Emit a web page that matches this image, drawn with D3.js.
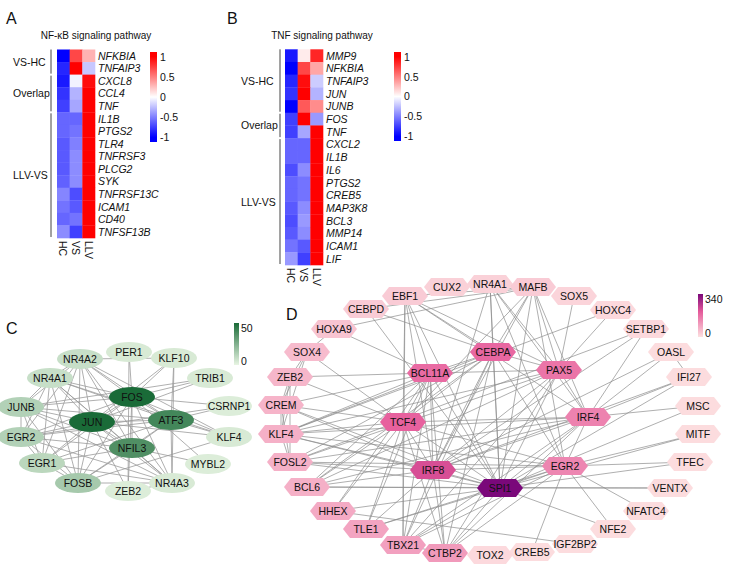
<!DOCTYPE html>
<html><head><meta charset="utf-8">
<script src="https://cdn.jsdelivr.net/npm/d3@7"></script>
<style>
body{margin:0;background:#fff}
svg{display:block}
text{font-family:Arial,"Liberation Sans",Helvetica,sans-serif;fill:#111}
</style>
</head><body>
<svg id="fig" width="738" height="577"></svg>
<script>
// ---------------- DATA ----------------
const heatCols = ["HC", "VS", "LLV"];
const colorTicks = [1, 0.5, 0, -0.5, -1];

const aTitle = "NF-κB signaling pathway";
const aGenes = ["NFKBIA","TNFAIP3","CXCL8","CCL4","TNF","IL1B","PTGS2","TLR4","TNFRSF3","PLCG2","SYK","TNFRSF13C","ICAM1","CD40","TNFSF13B"];
const aHC  = [-1.0,-0.85,-0.9,-0.8,-0.75,-0.6,-0.6,-0.65,-0.65,-0.65,-0.62,-0.48,-0.55,-0.6,-0.45];
const aVS  = [0.72,1.0,-0.05,-0.3,-0.35,-0.6,-0.55,-0.5,-0.45,-0.45,-0.45,-0.7,-0.65,-0.55,-0.75];
const aLLV = [0.3,-0.22,0.95,1.0,1.0,1.0,1.0,1.0,1.0,1.0,1.0,1.0,1.0,1.0,1.0];
const aGroupNames = ["VS-HC","Overlap","LLV-VS"];
const aGroupSizes = [2,3,10];

const bTitle = "TNF signaling pathway";
const bGenes = ["MMP9","NFKBIA","TNFAIP3","JUN","JUNB","FOS","TNF","CXCL2","IL1B","IL6","PTGS2","CREB5","MAP3K8","BCL3","MMP14","ICAM1","LIF"];
const bHC  = [-0.9,-1.0,-0.85,-0.8,-1.0,-0.75,-0.75,-0.6,-0.6,-0.7,-0.6,-0.6,-0.65,-0.7,-0.65,-0.55,-0.4];
const bVS  = [0.08,0.72,0.95,1.0,0.65,1.0,-0.35,-0.6,-0.6,-0.45,-0.55,-0.55,-0.45,-0.4,-0.45,-0.65,-0.75];
const bLLV = [0.85,0.35,-0.2,-0.3,0.45,-0.4,1.0,1.0,1.0,1.0,1.0,1.0,1.0,1.0,1.0,1.0,1.0];
const bGroupNames = ["VS-HC","Overlap","LLV-VS"];
const bGroupSizes = [5,2,10];

// Network C (layout coordinates in layout units, degree values)
const cNodes  = ["PER1","NR4A2","KLF10","NR4A1","TRIB1","FOS","JUNB","CSRNP1","JUN","ATF3","EGR2","KLF4","NFIL3","EGR1","MYBL2","FOSB","ZEB2","NR4A3"];
const cLayoutX = [129,80,174,50,210,132,21,229,92,171,21,229,132,42,208,78,128,172];
const cLayoutY = [352,359,358,378,378,397,407,406,422,420,437,437,448,463,464,483,491,483];
const cDegree = [4,8,4,8,4,50,13,3,50,40,13,4,37,11,3,16,3,4];
const cEdges = [
 ["FOS","JUN"],["FOS","ATF3"],["FOS","NFIL3"],["FOS","NR4A1"],["FOS","NR4A2"],["FOS","KLF10"],["FOS","TRIB1"],["FOS","CSRNP1"],["FOS","KLF4"],["FOS","JUNB"],["FOS","EGR2"],["FOS","EGR1"],["FOS","FOSB"],["FOS","ZEB2"],["FOS","NR4A3"],["FOS","MYBL2"],["FOS","PER1"],
 ["JUN","ATF3"],["JUN","NFIL3"],["JUN","NR4A1"],["JUN","NR4A2"],["JUN","JUNB"],["JUN","EGR2"],["JUN","EGR1"],["JUN","FOSB"],["JUN","KLF4"],["JUN","KLF10"],["JUN","TRIB1"],["JUN","NR4A3"],["JUN","ZEB2"],
 ["ATF3","NFIL3"],["ATF3","JUNB"],["ATF3","EGR2"],["ATF3","EGR1"],["ATF3","KLF4"],["ATF3","CSRNP1"],["ATF3","NR4A2"],["ATF3","NR4A1"],["ATF3","FOSB"],["ATF3","NR4A3"],["ATF3","KLF10"],
 ["NFIL3","EGR1"],["NFIL3","FOSB"],["NFIL3","NR4A3"],["NFIL3","JUNB"],["NFIL3","EGR2"],["NFIL3","NR4A1"],["NFIL3","MYBL2"],["NFIL3","NR4A2"],
 ["NR4A2","NR4A1"],["NR4A2","JUNB"],["NR4A2","EGR2"],["NR4A2","EGR1"],["NR4A2","FOSB"],["NR4A2","NR4A3"],["NR4A2","KLF4"],["NR4A2","KLF10"],
 ["NR4A1","JUNB"],["NR4A1","EGR2"],["NR4A1","EGR1"],["NR4A1","FOSB"],["NR4A1","NR4A3"],["NR4A1","KLF4"],
 ["JUNB","EGR2"],["JUNB","EGR1"],["JUNB","FOSB"],["JUNB","NR4A3"],["JUNB","TRIB1"],
 ["EGR2","EGR1"],["EGR2","FOSB"],["EGR2","NR4A3"],["EGR2","CSRNP1"],
 ["EGR1","FOSB"],["EGR1","NR4A3"],["FOSB","NR4A3"],["FOSB","KLF4"],["KLF10","NR4A3"],["PER1","ZEB2"],["ZEB2","NR4A3"]
];
const cLegendTicks = [50, 0];

// Network D
const dNodes = ["EBF1","CUX2","NR4A1","MAFB","SOX5","HOXC4","SETBP1","OASL","IFI27","MSC","MITF","TFEC","VENTX","NFATC4","NFE2","IGF2BP2","CREB5","TOX2","CTBP2","TBX21","TLE1","HHEX","BCL6","FOSL2","KLF4","CREM","ZEB2","SOX4","HOXA9","CEBPD","CEBPA","BCL11A","PAX5","TCF4","IRF4","IRF8","EGR2","SPI1"];
const dLayoutX = [405,447,490,533,574,613,646,671,689,698,698,690,670,646,613,575,532,490,445,403,366,333,307,290,281,281,290,307,334,366,493,430,559,403,588,433,565,500];
const dLayoutY = [296,287,284,287,296,310,329,352,377,406,434,462,488,511,529,544,552,555,553,545,529,511,487,462,434,405,377,352,329,309,352,373,370,422,417,470,466,488];
const dDegree = [32,22,22,32,18,12,12,6,6,6,6,6,6,6,6,6,6,10,105,95,90,80,72,72,72,65,62,55,42,32,180,175,160,190,140,220,135,340];
const dEdges = [
 ["SPI1","IRF8"],["SPI1","IRF4"],["SPI1","EGR2"],["SPI1","CEBPA"],["SPI1","PAX5"],["SPI1","TCF4"],["SPI1","BCL11A"],["SPI1","CEBPD"],["SPI1","EBF1"],["SPI1","NR4A1"],["SPI1","MAFB"],["SPI1","KLF4"],["SPI1","CREM"],["SPI1","FOSL2"],["SPI1","BCL6"],["SPI1","HHEX"],["SPI1","TLE1"],["SPI1","TBX21"],["SPI1","CTBP2"],["SPI1","IFI27"],["SPI1","MSC"],["SPI1","MITF"],["SPI1","TFEC"],["SPI1","VENTX"],["SPI1","NFE2"],
 ["IRF8","IRF4"],["IRF8","EGR2"],["IRF8","CEBPA"],["IRF8","PAX5"],["IRF8","TCF4"],["IRF8","BCL11A"],["IRF8","MAFB"],["IRF8","NR4A1"],["IRF8","EBF1"],["IRF8","KLF4"],["IRF8","FOSL2"],["IRF8","BCL6"],["IRF8","CREM"],["IRF8","TBX21"],["IRF8","TLE1"],["IRF8","CTBP2"],["IRF8","SETBP1"],["IRF8","OASL"],["IRF8","IFI27"],
 ["TCF4","BCL11A"],["TCF4","CEBPA"],["TCF4","IRF4"],["TCF4","EGR2"],["TCF4","EBF1"],["TCF4","ZEB2"],["TCF4","SOX4"],["TCF4","KLF4"],["TCF4","CREM"],["TCF4","BCL6"],["TCF4","HHEX"],["TCF4","TBX21"],["TCF4","CTBP2"],["TCF4","TLE1"],["TCF4","MAFB"],
 ["CEBPA","BCL11A"],["CEBPA","PAX5"],["CEBPA","EGR2"],["CEBPA","CEBPD"],["CEBPA","MAFB"],["CEBPA","NR4A1"],["CEBPA","EBF1"],["CEBPA","KLF4"],["CEBPA","FOSL2"],["CEBPA","BCL6"],["CEBPA","TBX21"],["CEBPA","CTBP2"],
 ["BCL11A","PAX5"],["BCL11A","EBF1"],["BCL11A","HOXA9"],["BCL11A","CREM"],["BCL11A","ZEB2"],["BCL11A","KLF4"],["BCL11A","BCL6"],["BCL11A","TLE1"],["BCL11A","TBX21"],["BCL11A","CTBP2"],["BCL11A","HHEX"],
 ["PAX5","IRF4"],["PAX5","EBF1"],["PAX5","MAFB"],["PAX5","NR4A1"],["PAX5","HOXC4"],["PAX5","SOX5"],["PAX5","CTBP2"],["PAX5","TBX21"],["PAX5","KLF4"],["PAX5","FOSL2"],["PAX5","BCL6"],
 ["IRF4","EGR2"],["IRF4","OASL"],["IRF4","IFI27"],["IRF4","MSC"],["IRF4","MAFB"],["IRF4","NR4A1"],["IRF4","EBF1"],["IRF4","KLF4"],["IRF4","FOSL2"],["IRF4","BCL6"],["IRF4","TBX21"],["IRF4","CTBP2"],["IRF4","SETBP1"],
 ["EGR2","MITF"],["EGR2","TFEC"],["EGR2","NFATC4"],["EGR2","NR4A1"],["EGR2","MAFB"],["EGR2","KLF4"],["EGR2","FOSL2"],["EGR2","TBX21"],["EGR2","CTBP2"],["EGR2","CREB5"],["EGR2","TLE1"],["EGR2","NFE2"],
 ["SOX4","ZEB2"],["ZEB2","CREM"],["CREM","KLF4"],["KLF4","FOSL2"],["SOX4","CREM"],["ZEB2","KLF4"],["SOX4","KLF4"],["CREM","FOSL2"],["ZEB2","FOSL2"],["OASL","IFI27"],["HOXA9","SOX4"],["TBX21","CTBP2"],["NR4A1","MAFB"],["CEBPD","MAFB"],["EBF1","MAFB"],["HOXA9","MAFB"],["HOXC4","KLF4"],["SETBP1","FOSL2"],["VENTX","BCL6"],["IGF2BP2","HHEX"],["EBF1","TBX21"]
];
const dLegendTicks = [340, 0];

// ---------------- DRAW ----------------
const svg = d3.select("#fig");
const defs = svg.append("defs");
const FS = 10.5;

const heatColor = d3.scaleLinear().domain([-1, 0, 1]).range(["#0000ff", "#ffffff", "#ff0000"]).clamp(true);

function panelLetter(t, x, y) {
  svg.append("text").attr("x", x).attr("y", y).attr("font-size", 16).text(t);
}

function drawHeat(o) {
  const g = svg.append("g");
  const rows = o.genes.map((gene, i) => ({gene, vals: [o.hc[i], o.vs[i], o.llv[i]]}));
  const x = d3.scaleBand().domain(heatCols).range(o.xr);
  const y = d3.scaleBand().domain(o.genes).range(o.yr);
  rows.forEach(r => {
    g.selectAll(null).data(heatCols.map((c, j) => ({c, v: r.vals[j]}))).join("rect")
      .attr("x", d => x(d.c)).attr("y", y(r.gene))
      .attr("width", x.bandwidth() + 0.3).attr("height", y.bandwidth() + 0.3)
      .attr("fill", d => heatColor(d.v));
  });
  g.selectAll(null).data(o.genes).join("text")
    .attr("x", o.xr[1] + 3).attr("y", d => y(d) + y.bandwidth() / 2)
    .attr("dominant-baseline", "central").attr("font-size", FS).attr("font-style", "italic").text(d => d);
  g.selectAll(null).data(heatCols).join("text")
    .attr("transform", d => `translate(${x(d) + x.bandwidth() / 2},${o.yr[1] + 3}) rotate(90)`)
    .attr("dominant-baseline", "central").attr("font-size", FS).text(d => d);
  let start = 0;
  o.groupNames.forEach((name, k) => {
    const n = o.groupSizes[k];
    const y0 = y(o.genes[start]), y1 = y(o.genes[start + n - 1]) + y.bandwidth();
    g.append("line").attr("x1", o.bx).attr("x2", o.bx)
      .attr("y1", y0 + (k ? 1 : 0)).attr("y2", y1 - 1).attr("stroke", "#444").attr("stroke-width", 1);
    g.append("text").attr("x", o.lx).attr("y", (y0 + y1) / 2)
      .attr("dominant-baseline", "central").attr("font-size", FS).text(name);
    start += n;
  });
  g.append("text").attr("x", o.tx).attr("y", 35).attr("text-anchor", "middle")
    .attr("dominant-baseline", "central").attr("font-size", 10).text(o.title);
  const id = "hg" + o.id;
  const cy = d3.scaleLinear().domain([-1.125, 1.125]).range([o.cb[2], o.cb[1]]);
  const grad = defs.append("linearGradient").attr("id", id).attr("x1", 0).attr("x2", 0).attr("y1", 1).attr("y2", 0);
  d3.range(0, 1.0001, 0.05).forEach(t => {
    const v = -1.125 + 2.25 * t;
    grad.append("stop").attr("offset", t).attr("stop-color", heatColor(v));
  });
  g.append("rect").attr("x", o.cb[0]).attr("y", o.cb[1]).attr("width", 7).attr("height", o.cb[2] - o.cb[1]).attr("fill", `url(#${id})`);
  const ax = g.append("g").attr("transform", `translate(${o.cb[0] + 8},0)`)
    .call(d3.axisRight(cy).tickValues(colorTicks).tickSize(0).tickPadding(2).tickFormat(d => String(d)));
  ax.select(".domain").remove();
  ax.selectAll("text").attr("font-size", FS).attr("font-family", "Arial,'Liberation Sans',sans-serif").attr("fill", "#111");
}

panelLetter("A", 6, 24);
drawHeat({id: "a", genes: aGenes, hc: aHC, vs: aVS, llv: aLLV, groupNames: aGroupNames, groupSizes: aGroupSizes,
  xr: [57, 95], yr: [49.5, 238], bx: 51, lx: 13, tx: 96, title: aTitle, cb: [150, 52, 142]});
panelLetter("B", 227, 24);
drawHeat({id: "b", genes: bGenes, hc: bHC, vs: bVS, llv: bLLV, groupNames: bGroupNames, groupSizes: bGroupSizes,
  xr: [285, 323], yr: [49.3, 265], bx: 280, lx: 241, tx: 322, title: bTitle, cb: [394, 52, 141]});

function drawNetwork(o) {
  const g = svg.append("g");
  const xs = d3.scaleLinear().domain(d3.extent(o.lx)).range(d3.extent(o.lx));
  const ys = d3.scaleLinear().domain(d3.extent(o.ly)).range(d3.extent(o.ly));
  const nodes = o.names.map((n, i) => ({name: n, x: xs(o.lx[i]), y: ys(o.ly[i]), v: o.vals[i]}));
  const byName = new Map(nodes.map(d => [d.name, d]));
  g.append("g").selectAll("line").data(o.edges).join("line")
    .attr("x1", d => byName.get(d[0]).x).attr("y1", d => byName.get(d[0]).y)
    .attr("x2", d => byName.get(d[1]).x).attr("y2", d => byName.get(d[1]).y)
    .attr("stroke", o.edgeColor).attr("stroke-width", o.edgeWidth);
  const order = nodes.slice().sort((a, b) => a.v - b.v);
  const ng = g.append("g").selectAll("g").data(order).join("g")
    .attr("transform", d => `translate(${d.x},${d.y})`);
  o.shape(ng);
  ng.select(".shape").attr("fill", d => o.color(d.v));
  ng.append("text").attr("text-anchor", "middle").attr("dominant-baseline", "central")
    .attr("font-size", FS).attr("fill", "#111").text(d => d.name);
  const id = "lg" + o.id;
  const grad = defs.append("linearGradient").attr("id", id).attr("x1", 0).attr("x2", 0).attr("y1", 1).attr("y2", 0);
  const dom = o.color.domain();
  const lo = dom[0], hi = dom[dom.length - 1];
  d3.range(0, 1.0001, 0.1).forEach(t => grad.append("stop").attr("offset", t).attr("stop-color", o.color(lo + (hi - lo) * t)));
  g.append("rect").attr("x", o.lg[0]).attr("y", o.lg[1]).attr("width", 5).attr("height", o.lg[2] - o.lg[1]).attr("fill", `url(#${id})`);
  const ly = d3.scaleLinear().domain([lo, hi]).range([o.lg[2] - 4, o.lg[1] + 5]);
  const ax = g.append("g").attr("transform", `translate(${o.lg[0] + 6},0)`)
    .call(d3.axisRight(ly).tickValues(o.ticks).tickSize(0).tickPadding(1).tickFormat(d => String(d)));
  ax.select(".domain").remove();
  ax.selectAll("text").attr("font-size", FS).attr("font-family", "Arial,'Liberation Sans',sans-serif").attr("fill", "#111");
}

panelLetter("C", 6, 334);
drawNetwork({id: "c", names: cNodes, lx: cLayoutX, ly: cLayoutY, vals: cDegree, edges: cEdges,
  edgeColor: "#9a9a9a", edgeWidth: 0.8,
  color: d3.scaleLinear().domain([0, 50]).range(["#e8f5e3", "#1a6b38"]),
  shape: sel => sel.append("ellipse").attr("class", "shape").attr("rx", 23).attr("ry", 10),
  lg: [234, 323, 365], ticks: cLegendTicks});

panelLetter("D", 286, 320);
const hexPath = (() => {
  const w = 23, h = 9, s = 7;
  return `M${-w},0L${-w + s},${-h}L${w - s},${-h}L${w},0L${w - s},${h}L${-w + s},${h}Z`;
})();
drawNetwork({id: "d", names: dNodes, lx: dLayoutX, ly: dLayoutY, vals: dDegree, edges: dEdges,
  edgeColor: "#8c8c8c", edgeWidth: 0.7,
  color: d3.scaleLinear().domain([0, 200, 340]).range(["#fde0e0", "#e65a9a", "#7a087a"]),
  shape: sel => sel.append("path").attr("class", "shape").attr("d", hexPath),
  lg: [698, 294, 337], ticks: dLegendTicks});
</script>
</body></html>
